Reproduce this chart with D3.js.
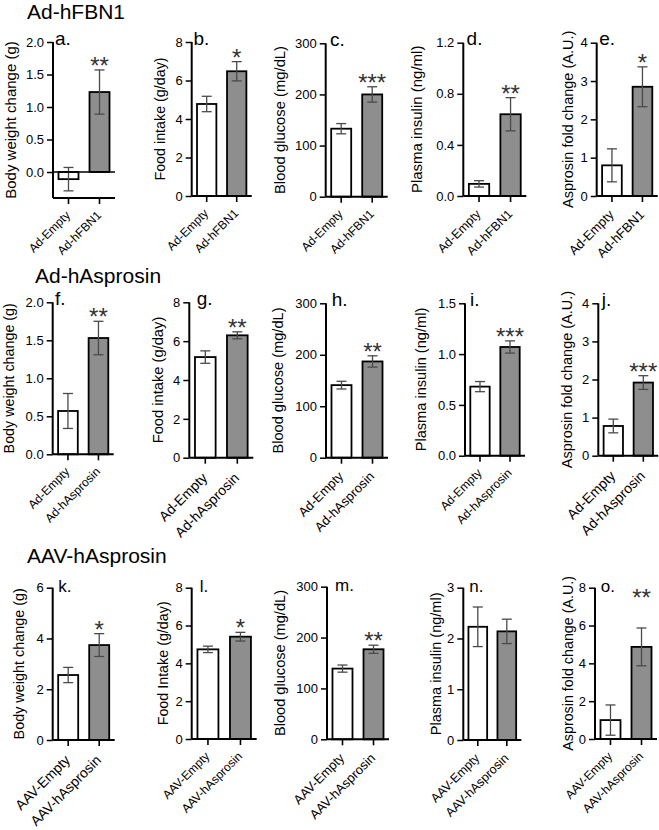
<!DOCTYPE html>
<html><head><meta charset="utf-8">
<script src="https://cdn.jsdelivr.net/npm/d3@7"></script>
<style>
body{margin:0;background:#fff;}
svg{display:block;font-family:'Liberation Sans',Arial,sans-serif;}
</style>
</head><body>
<svg id="chart" width="659" height="830"></svg>
<script>
// ---------------- DATA ----------------
const rowTitles = ["Ad-hFBN1", "Ad-hAsprosin", "AAV-hAsprosin"];
const rowCategories = [
  ["Ad-Empty", "Ad-hFBN1"],
  ["Ad-Empty", "Ad-hAsprosin"],
  ["AAV-Empty", "AAV-hAsprosin"]
];
const panelLetters = ["a.","b.","c.","d.","e.","f.","g.","h.","i.","j.","k.","l.","m.","n.","o."];
const yTitles = [
  "Body weight change (g)","Food intake (g/day)","Blood glucose (mg/dL)","Plasma insulin (ng/ml)","Asprosin fold change (A.U.)",
  "Body weight change (g)","Food intake (g/day)","Blood glucose (mg/dL)","Plasma insulin (ng/ml)","Asprosin fold change (A.U.)",
  "Body weight change (g)","Food Intake (g/day)","Blood glucose (mg/dL)","Plasma insulin (ng/ml)","Asprosin fold change (A.U.)"
];
const yDomains = [
  [-0.4,2],[0,8],[0,300],[0,1.2],[0,4],
  [0,2],[0,8],[0,300],[0,1.5],[0,4],
  [0,6],[0,8],[0,300],[0,3],[0,8]
];
const yTickValues = [
  [0,0.5,1,1.5,2],[0,2,4,6,8],[0,100,200,300],[0,0.4,0.8,1.2],[0,1,2,3,4],
  [0,0.5,1,1.5,2],[0,2,4,6,8],[0,100,200,300],[0,0.5,1,1.5],[0,1,2,3,4],
  [0,2,4,6],[0,2,4,6,8],[0,100,200,300],[0,1,2,3],[0,2,4,6,8]
];
const yTickLabels = [
  ["0.0","0.5","1.0","1.5","2.0"],["0","2","4","6","8"],["0","100","200","300"],["0.0","0.4","0.8","1.2"],["0","1","2","3","4"],
  ["0.0","0.5","1.0","1.5","2.0"],["0","2","4","6","8"],["0","100","200","300"],["0.0","0.5","1.0","1.5"],["0","1","2","3","4"],
  ["0","2","4","6"],["0","2","4","6","8"],["0","100","200","300"],["0","1","2","3"],["0","2","4","6","8"]
];
const controlMeans  = [-0.11, 4.78, 133, 0.095, 0.80,  0.57, 5.18, 141, 0.68, 0.78,  2.56, 4.74, 139, 2.23, 1.00];
const controlErrors = [ 0.18, 0.40,  10, 0.025, 0.43,  0.23, 0.32, 7.5, 0.05, 0.18,  0.30, 0.17,   7, 0.39, 0.80];
const treatedMeans  = [ 1.23, 6.48, 200, 0.64, 2.85,   1.53, 6.30, 187, 1.07, 1.92,  3.74, 5.41, 177, 2.14, 4.87];
const treatedErrors = [ 0.34, 0.50,  15, 0.13, 0.52,   0.22, 0.18,  11, 0.06, 0.18,  0.45, 0.23,   8, 0.24, 1.00];
const significance  = ["**","*","***","**","*", "**","**","**","***","***", "*","*","**","",  "**"];
const starLevel     = [null,null,null,null,null, null,null,null,null,null, null,null,null,null, 7.45];

// ---------------- LAYOUT ----------------
const axisX   = [53,191.7,325.7,463.3,596.7, 52.7,189.3,326,465,598.3, 52.7,191.7,327,463.3,595];
const axisTop = [42,42,43.3,42.7,42.7, 302.3,302.3,303.3,303.3,303.3, 587.7,587.7,586.7,587.7,587.7];
const axisBot = [198,196,196.7,196,196, 454.3,457.7,457.7,455.7,455.7, 740,739,739.3,740,739];
const plotW   = [62,60,62,63,61, 61,64,62,60,60, 62,65,62,58,62];
const yTitleDx= [-43,-32,-46,-47,-29, -44,-31,-48,-44,-31, -34,-29,-47,-27,-27.5];
const yTitleFs= [15,14.3,14.8,15,14.5, 14.3,14.7,14.6,14.6,14.5, 14.4,14.3,14.6,14.5,14.3];
const xLabFs  = [12,12,12,12.5,13, 12,14,13,12,14, 14,12,13,12.5,12];
const letterDx= [2,1.7,4.3,3.3,2.6, 2.3,7.4,5.7,5,3.4, 5.6,8,8,6,5.7];
const rowTitlePos = [[27,19],[35,283],[27,563]];

const svg = d3.select("#chart");

rowTitles.forEach((t,r)=>{
  svg.append("text").attr("x",rowTitlePos[r][0]).attr("y",rowTitlePos[r][1])
    .attr("font-size",21).attr("fill","#000").text(t);
});

for (let p=0; p<15; p++){
  const row = Math.floor(p/5);
  const cats = rowCategories[row];
  const g = svg.append("g").attr("transform",`translate(${axisX[p]},0)`);
  const y = d3.scaleLinear().domain(yDomains[p]).range([axisBot[p], axisTop[p]]);
  const x = d3.scaleBand().domain(cats).range([0, plotW[p]]).paddingInner(0.355).paddingOuter(0.177);
  const bw = x.bandwidth();

  // bars
  const vals = [controlMeans[p], treatedMeans[p]];
  const errs = [controlErrors[p], treatedErrors[p]];
  const bars = cats.map((c,i)=>({c, v:vals[i], e:errs[i], i}));
  g.selectAll("rect.bar").data(bars).enter().append("rect")
    .attr("x",d=>x(d.c)).attr("width",bw)
    .attr("y",d=>Math.min(y(0),y(d.v))).attr("height",d=>Math.abs(y(0)-y(d.v)))
    .attr("fill",d=>d.i===0?"#ffffff":"#8e8e8e")
    .attr("stroke","#000").attr("stroke-width",1.8);

  // error bars
  const eb = g.selectAll("g.err").data(bars).enter().append("g").attr("stroke","#4a4a4a").attr("stroke-width",1.3);
  eb.append("line").attr("x1",d=>x(d.c)+bw/2).attr("x2",d=>x(d.c)+bw/2)
    .attr("y1",d=>y(d.v+d.e)).attr("y2",d=>y(d.v-d.e));
  eb.append("line").attr("x1",d=>x(d.c)+bw/2-5).attr("x2",d=>x(d.c)+bw/2+5)
    .attr("y1",d=>y(d.v+d.e)).attr("y2",d=>y(d.v+d.e));
  eb.append("line").attr("x1",d=>x(d.c)+bw/2-5).attr("x2",d=>x(d.c)+bw/2+5)
    .attr("y1",d=>y(d.v-d.e)).attr("y2",d=>y(d.v-d.e));

  // zero line if domain includes negatives
  if (yDomains[p][0] < 0){
    g.append("line").attr("x1",0).attr("x2",plotW[p]).attr("y1",y(0)).attr("y2",y(0))
      .attr("stroke","#000").attr("stroke-width",1.6);
  }

  // y axis
  const ya = g.append("g").call(d3.axisLeft(y).tickValues(yTickValues[p]).tickSize(6).tickPadding(3)
      .tickFormat((d,i)=>yTickLabels[p][i]));
  ya.select(".domain").attr("stroke","#000").attr("stroke-width",2).attr("d",`M0,${axisTop[p]}V${axisBot[p]}`);
  ya.selectAll(".tick line").attr("stroke","#000").attr("stroke-width",1.5);
  ya.selectAll(".tick text").attr("font-size",13).attr("fill","#000").attr("font-family","'Liberation Sans',Arial,sans-serif");

  // x axis
  const xa = g.append("g").attr("transform",`translate(0,${axisBot[p]})`)
    .call(d3.axisBottom(x).tickSize(6).tickFormat(""));
  xa.select(".domain").attr("stroke","#000").attr("stroke-width",2).attr("d",`M0,0H${plotW[p]}`);
  xa.selectAll(".tick line").attr("stroke","#000").attr("stroke-width",1.6);
  const fs = xLabFs[p];
  g.selectAll("text.xl").data(cats).enter().append("text")
    .attr("transform",d=>`translate(${x(d)+bw/2+0.2*fs},${axisBot[p]+1.5*fs}) rotate(-45)`)
    .attr("text-anchor","end").attr("font-size",fs).attr("fill","#000").text(d=>d);

  // y title
  g.append("text")
    .attr("transform",`translate(${yTitleDx[p]},${(axisTop[p]+axisBot[p])/2}) rotate(-90)`)
    .attr("text-anchor","middle").attr("dominant-baseline","central")
    .attr("font-size",yTitleFs[p]).attr("fill","#000").text(yTitles[p]);

  // panel letter
  g.append("text").attr("x",letterDx[p]).attr("y",axisTop[p]+(row===2?4:2.5))
    .attr("font-size",row===2?17:19).attr("fill","#000").text(panelLetters[p]);

  // significance
  if (significance[p]){
    const d = bars[1];
    const yy = starLevel[p]!==null ? y(starLevel[p]) + 8 : y(d.v+d.e) + 4;
    g.append("text").attr("x",x(d.c)+bw/2).attr("y",yy).attr("text-anchor","middle")
      .attr("font-size",24).attr("fill","#333").text(significance[p]);
  }
}
</script>
</body></html>
